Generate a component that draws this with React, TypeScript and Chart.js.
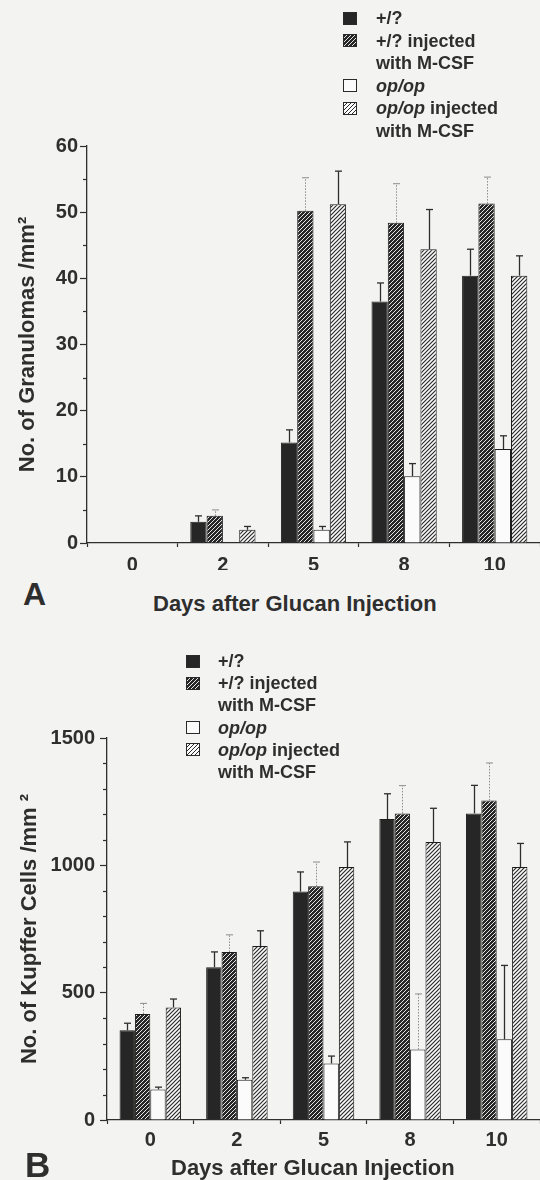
import React, { useEffect, useRef } from 'react';
import { Chart, registerables } from 'chart.js';

Chart.register(...registerables);

// ---------- data ----------
const days = ['0', '2', '5', '8', '10'];
const seriesLabels = ['+/?', '+/? injected with M-CSF', 'op/op', 'op/op injected with M-CSF'];
const legendLines = [['+/?'], ['+/? injected', 'with M-CSF'], ['op/op'], ['op/op injected', 'with M-CSF']];

// Panel A: granulomas / mm2
const granWild = [0, 3.2, 15.2, 36.5, 40.4];
const granWildErr = [null, 4.1, 17.1, 39.3, 44.4];
const granWildM = [0, 4.1, 50.2, 48.4, 51.3];
const granWildMErr = [null, 5.0, 55.2, 54.3, 55.3];
const granOp = [0, 0, 2.0, 10.1, 14.2];
const granOpErr = [null, null, 2.5, 12.0, 16.2];
const granOpM = [0, 2.0, 51.2, 44.4, 40.4];
const granOpMErr = [null, 2.5, 56.2, 50.4, 43.4];
const granTickLabels = [0, 10, 20, 30, 40, 50, 60];

// Panel B: Kupffer cells / mm2
const kupWild = [352, 600, 897, 1182, 1204];
const kupWildErr = [380, 660, 974, 1281, 1314];
const kupWildM = [416, 660, 918, 1204, 1255];
const kupWildMErr = [458, 727, 1013, 1313, 1402];
const kupOp = [120, 158, 222, 277, 317];
const kupOpErr = [129, 166, 251, 495, 607];
const kupOpM = [442, 683, 993, 1092, 993];
const kupOpMErr = [475, 743, 1092, 1224, 1086];
const kupTickLabels = [0, 500, 1000, 1500];

// which error whiskers are drawn as faint dotted lines
const allDotted = [true, true, true, true, true];
const noneDotted = [false, false, false, false, false];
const kupOpDotted = [false, false, false, true, false];

// ---------- style ----------
const FONT = "'Liberation Sans', Arial, Helvetica, sans-serif";
const INK = '#2e2e2e';
const BG = '#f3f3f1';

function hatchPattern(bg: string, fg: string, lw: number) {
  const s = 4;
  const c = document.createElement('canvas');
  c.width = s;
  c.height = s;
  const x = c.getContext('2d')!;
  x.fillStyle = bg;
  x.fillRect(0, 0, s, s);
  x.strokeStyle = fg;
  x.lineWidth = lw;
  x.beginPath();
  x.moveTo(-1, 1); x.lineTo(1, -1);
  x.moveTo(0, s); x.lineTo(s, 0);
  x.moveTo(s - 1, s + 1); x.lineTo(s + 1, s - 1);
  x.stroke();
  return x.createPattern(c, 'repeat');
}

const errorBarPlugin = {
  id: 'errorBars',
  afterDatasetsDraw(chart: any) {
    const ctx = chart.ctx;
    const ys = chart.scales.y;
    chart.data.datasets.forEach((ds: any, i: number) => {
      const meta = chart.getDatasetMeta(i);
      meta.data.forEach((bar: any, j: number) => {
        const hi = ds.errHigh ? ds.errHigh[j] : null;
        if (hi == null) return;
        const dotted = ds.errDotted ? ds.errDotted[j] : false;
        const x = Math.round(bar.x) + 0.5;
        const top = bar.y;
        const yy = ys.getPixelForValue(hi);
        ctx.save();
        ctx.strokeStyle = dotted ? '#8c8c8c' : INK;
        ctx.lineWidth = dotted ? 1 : 1.3;
        ctx.setLineDash(dotted ? [1.5, 1.5] : []);
        ctx.beginPath();
        ctx.moveTo(x, top);
        ctx.lineTo(x, yy);
        ctx.stroke();
        ctx.setLineDash([]);
        ctx.beginPath();
        ctx.moveTo(x - 3.5, yy);
        ctx.lineTo(x + 3.5, yy);
        ctx.stroke();
        ctx.restore();
      });
    });
  },
};

const minorTickPlugin = {
  id: 'minorTicks',
  afterDraw(chart: any, _args: any, opts: any) {
    const ys = chart.scales.y;
    const ctx = chart.ctx;
    const left = chart.chartArea.left;
    ctx.save();
    ctx.strokeStyle = INK;
    ctx.lineWidth = 1.2;
    for (let v = ys.min; v <= ys.max + 1e-9; v += opts.step) {
      if (opts.major.includes(v)) continue;
      const py = Math.round(ys.getPixelForValue(v)) + 0.5;
      ctx.beginPath();
      ctx.moveTo(left - opts.len, py);
      ctx.lineTo(left, py);
      ctx.stroke();
    }
    ctx.restore();
  },
};

function panelConfig(o: any) {
  const dark = hatchPattern('#262626', '#e6e6e6', 1);
  const light = hatchPattern('#fbfbfb', '#2a2a2a', 1.2);
  const fills = ['#262626', dark, '#fbfbfb', light];
  return {
    type: 'bar',
    data: {
      labels: days,
      datasets: seriesLabels.map((lab, k) => ({
        label: lab,
        data: o.values[k],
        backgroundColor: fills[k],
        borderColor: '#1c1c1c',
        borderWidth: 1,
        errHigh: o.errs[k],
        errDotted: o.dotted[k],
      })),
    },
    options: {
      animation: false,
      responsive: false,
      events: [],
      layout: { padding: { top: o.padTop, left: 0, right: 0, bottom: 0 } },
      plugins: {
        legend: { display: false },
        tooltip: { enabled: false },
        minorTicks: { step: o.step, major: o.tickLabels, len: 4 },
      },
      datasets: { bar: { categoryPercentage: o.catPct, barPercentage: 1 } },
      scales: {
        x: {
          afterFit: (s: any) => { s.height = o.xHeight; },
          ticks: { font: { family: FONT, size: 20, weight: 'bold' }, color: INK, padding: o.xPad },
          grid: { offset: true, drawOnChartArea: false, tickLength: 4, tickColor: INK, tickWidth: 1.2 },
          border: { display: true, color: INK, width: 1.3 },
        },
        y: {
          min: 0,
          max: o.max,
          afterFit: (s: any) => { s.width = o.yWidth; },
          ticks: {
            stepSize: o.step,
            autoSkip: false,
            padding: o.yPad,
            font: { family: FONT, size: 20, weight: 'bold' },
            color: INK,
            callback: (v: number) => (o.tickLabels.includes(v) ? String(v) : ''),
          },
          grid: {
            drawOnChartArea: false,
            tickLength: 7,
            tickWidth: 1.2,
            tickColor: (c: any) => (c.tick && o.tickLabels.includes(c.tick.value) ? INK : 'rgba(0,0,0,0)'),
          },
          border: { display: true, color: INK, width: 1.3 },
          title: {
            display: true,
            text: o.yTitle,
            color: INK,
            font: { family: FONT, size: 22, weight: 'bold' },
            padding: { top: o.titlePad, bottom: 0 },
          },
        },
      },
    },
    plugins: [errorBarPlugin, minorTickPlugin],
  };
}

const txt: React.CSSProperties = {
  position: 'absolute',
  fontFamily: FONT,
  fontWeight: 700,
  color: INK,
  whiteSpace: 'nowrap',
};

function swatchStyle(k: number): React.CSSProperties {
  const bgs = [
    '#262626',
    'repeating-linear-gradient(135deg, #262626 0px, #262626 1.8px, #e6e6e6 1.8px, #e6e6e6 2.8px)',
    '#fbfbfb',
    'repeating-linear-gradient(135deg, #fbfbfb 0px, #fbfbfb 1.8px, #2a2a2a 1.8px, #2a2a2a 2.8px)',
  ];
  return { background: bgs[k], border: '1px solid #2a2a2a', boxSizing: 'border-box' };
}

function renderLine(s: string) {
  const parts = s.split('op/op');
  if (parts.length === 1) return s;
  return (
    <>
      {parts[0]}
      <i>op/op</i>
      {parts[1]}
    </>
  );
}

function Legend({ swX, textX, firstCenter, gap }: { swX: number; textX: number; firstCenter: number; gap: number }) {
  const items: any[] = [];
  let line = 0;
  legendLines.forEach((lines, k) => {
    const c0 = firstCenter + line * gap;
    items.push(
      <div key={'s' + k} style={{ position: 'absolute', left: swX, top: c0 - 6.5, width: 14, height: 13, ...swatchStyle(k) }} />
    );
    lines.forEach((l, m) => {
      const c = firstCenter + (line + m) * gap;
      items.push(
        <div key={'t' + k + '-' + m} style={{ ...txt, left: textX, top: c - 11, fontSize: 18, lineHeight: '22px', height: 22 }}>
          {renderLine(l)}
        </div>
      );
    });
    line += lines.length;
  });
  return <>{items}</>;
}

export default function App() {
  const refA = useRef<HTMLCanvasElement>(null);
  const refB = useRef<HTMLCanvasElement>(null);

  useEffect(() => {
    const a = new Chart(refA.current!, panelConfig({
      values: [granWild, granWildM, granOp, granOpM],
      errs: [granWildErr, granWildMErr, granOpErr, granOpMErr],
      dotted: [noneDotted, allDotted, noneDotted, noneDotted],
      max: 60, step: 5, tickLabels: granTickLabels,
      yTitle: 'No. of Granulomas /mm²',
      padTop: 16, xHeight: 27, yWidth: 87, yPad: 2, xPad: 6, titlePad: 15, catPct: 0.72,
    }) as any);
    const b = new Chart(refB.current!, panelConfig({
      values: [kupWild, kupWildM, kupOp, kupOpM],
      errs: [kupWildErr, kupWildMErr, kupOpErr, kupOpMErr],
      dotted: [noneDotted, allDotted, kupOpDotted, noneDotted],
      max: 1500, step: 100, tickLabels: kupTickLabels,
      yTitle: 'No. of Kupffer Cells /mm ²',
      padTop: 18, xHeight: 30, yWidth: 107, yPad: 5, xPad: 4, titlePad: 17, catPct: 0.71,
    }) as any);
    return () => { a.destroy(); b.destroy(); };
  }, []);

  return (
    <div style={{ position: 'absolute', left: 0, top: 0, width: 540, height: 1180, background: BG, overflow: 'hidden' }}>
      <canvas ref={refA} width={540} height={440} style={{ position: 'absolute', left: 0, top: 130, display: 'block' }} />
      <canvas ref={refB} width={540} height={430} style={{ position: 'absolute', left: 0, top: 720, display: 'block' }} />
      <Legend swX={343} textX={376} firstCenter={18} gap={22.5} />
      <Legend swX={186} textX={218} firstCenter={661} gap={22.2} />
      <div style={{ ...txt, left: 23, top: 578, fontSize: 32, lineHeight: '32px' }}>A</div>
      <div style={{ ...txt, left: 153, top: 593, fontSize: 22, lineHeight: '22px' }}>Days after Glucan Injection</div>
      <div style={{ ...txt, left: 25, top: 1147, fontSize: 35, lineHeight: '35px' }}>B</div>
      <div style={{ ...txt, left: 171, top: 1157, fontSize: 22, lineHeight: '22px' }}>Days after Glucan Injection</div>
    </div>
  );
}
